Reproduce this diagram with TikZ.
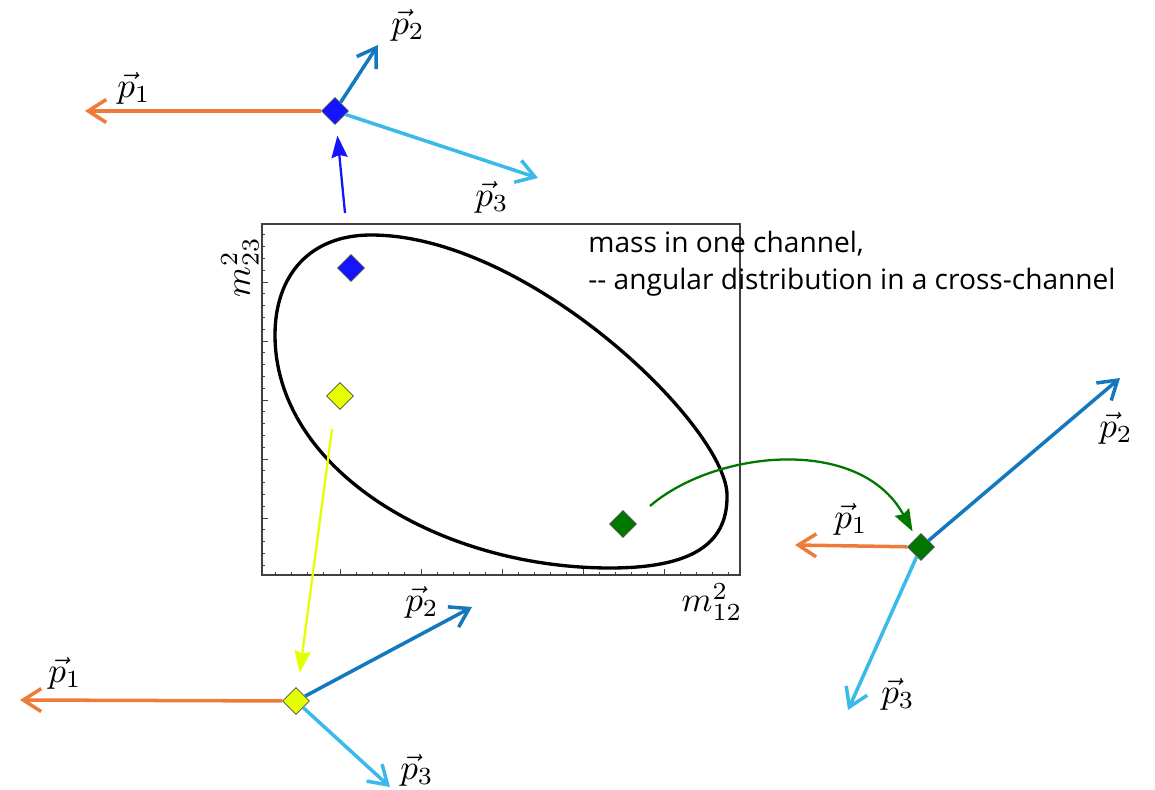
\documentclass[tikz,border=0pt]{standalone}
\usepackage{fontspec}
\newfontfamily\notefont{Open Sans}
\usetikzlibrary{arrows.meta, shapes.geometric}
\definecolor{momOne}{HTML}{EF7B3A}
\definecolor{momTwo}{HTML}{1478BE}
\definecolor{momThree}{HTML}{3CB9EB}
\definecolor{dotBlue}{HTML}{1414FF}
\definecolor{dotYellow}{HTML}{E6FF00}
\definecolor{dotGreen}{HTML}{007800}

\begin{document}
\begin{tikzpicture}[
		x=0.02cm, y=-0.02cm,
		vertex/.style={diamond, draw=black!70, line width=0.4pt, minimum width=0.54cm,
			minimum height=0.54cm, inner sep=0pt},
		mom/.style={line width=2pt, -{Straight Barb[length=3.6mm, width=4.6mm]}},
		jump/.style={line width=1.3pt, -{Stealth[length=4.4mm, width=3.2mm, inset=0.5mm]}},
		plabel/.style={scale=2, inner sep=0pt},
		frame/.style={draw=black!75, line width=0.6pt},
		tick/.style={draw=black!75, line width=0.5pt},
		boundary/.style={draw=black, line width=1.9pt},
		note/.style={font=\notefont\fontsize{16}{21.6}\selectfont, align=left, anchor=base west, inner sep=0pt},
		]
		\useasboundingbox (0,0) rectangle (1155,790);
		
		% Dalitz plot frame and ticks
		\draw[frame] (262,224) rectangle (740,575);
		\foreach \i in {0,...,28}
		\draw[tick] ({275.2+16.2*\i},575) -- ++(0,-3);
		\foreach \i in {0,...,4}
		\draw[tick] ({340+81*\i},575) -- ++(0,-6);
		\foreach \i in {1,...,29}
		\draw[tick] (262,{577-11.8*\i}) -- ++(3,0);
		\foreach \i in {1,...,5}
		\draw[tick] (262,{577-59*\i}) -- ++(6,0);
		
		\node[plabel, rotate=90] (m23) at (240,267) {$m^2_{23}$};
		\node[plabel] (m12) at (712,602) {$m^2_{12}$};
		
		% kinematic boundary
		\draw[boundary] (371,235) .. controls (530,235) and (730,430) .. (727,497)
		.. controls (727,545) and (690,568) .. (610,568)
		.. controls (440,568) and (275,470) .. (275,335)
		.. controls (275,275) and (310,235) .. cycle;
		
		% points in the plot
		\node[vertex, fill=dotBlue] (ptBlue) at (351,268) {};
		\node[vertex, fill=dotYellow] (ptYellow) at (340,396) {};
		\node[vertex, fill=dotGreen] (ptGreen) at (623,524) {};
		
		\node[note] (note) at (588,290) {mass in one channel,\\-- angular distribution in a cross-channel};
		
		% top decay (blue point)
		\node[vertex, fill=dotBlue] (vTop) at (335,111) {};
		\coordinate (topP1) at (85,111);
		\coordinate (topP2) at (378,45);
		\coordinate (topP3) at (538,178);
		\draw[mom, momOne] (vTop) -- (topP1);
		\draw[mom, momTwo] (vTop) -- (topP2);
		\draw[mom, momThree] (vTop) -- (topP3);
		\node[plabel] (topL1) at (134,88) {$\vec{p}_1$};
		\node[plabel] (topL2) at (408,25) {$\vec{p}_2$};
		\node[plabel] (topL3) at (492,197) {$\vec{p}_3$};
		
		% bottom decay (yellow point)
		\node[vertex, fill=dotYellow] (vBottom) at (296,701) {};
		\coordinate (botP1) at (20,700);
		\coordinate (botP2) at (472,607);
		\coordinate (botP3) at (390,787);
		\draw[mom, momOne] (vBottom) -- (botP1);
		\draw[mom, momTwo] (vBottom) -- (botP2);
		\draw[mom, momThree] (vBottom) -- (botP3);
		\node[plabel] (botL1) at (65,673) {$\vec{p}_1$};
		\node[plabel] (botL2) at (422,602) {$\vec{p}_2$};
		\node[plabel] (botL3) at (417,770) {$\vec{p}_3$};
		
		% right decay (green point)
		\node[vertex, fill=dotGreen] (vRight) at (921,547) {};
		\coordinate (rgtP1) at (795,545);
		\coordinate (rgtP2) at (1120,378);
		\coordinate (rgtP3) at (848,710);
		\draw[mom, momOne] (vRight) -- (rgtP1);
		\draw[mom, momTwo] (vRight) -- (rgtP2);
		\draw[mom, momThree] (vRight) -- (rgtP3);
		\node[plabel] (rgtL1) at (851,519) {$\vec{p}_1$};
		\node[plabel] (rgtL2) at (1116,428) {$\vec{p}_2$};
		\node[plabel] (rgtL3) at (898,694) {$\vec{p}_3$};
		
		% from the plot to the decays
		\coordinate (blueTail) at (345,213);
		\coordinate (yellowTail) at (332,429);
		\coordinate (greenTail) at (650,506);
		\draw[jump, dotBlue, shorten >=2.4mm] (blueTail) -- (vTop);
		\draw[jump, dotYellow, shorten >=3.2mm] (yellowTail) -- (vBottom);
		\draw[jump, dotGreen, shorten >=1.5mm] (greenTail) .. controls (715,450) and (860,435) .. (vRight);
	\end{tikzpicture}
\end{document}
